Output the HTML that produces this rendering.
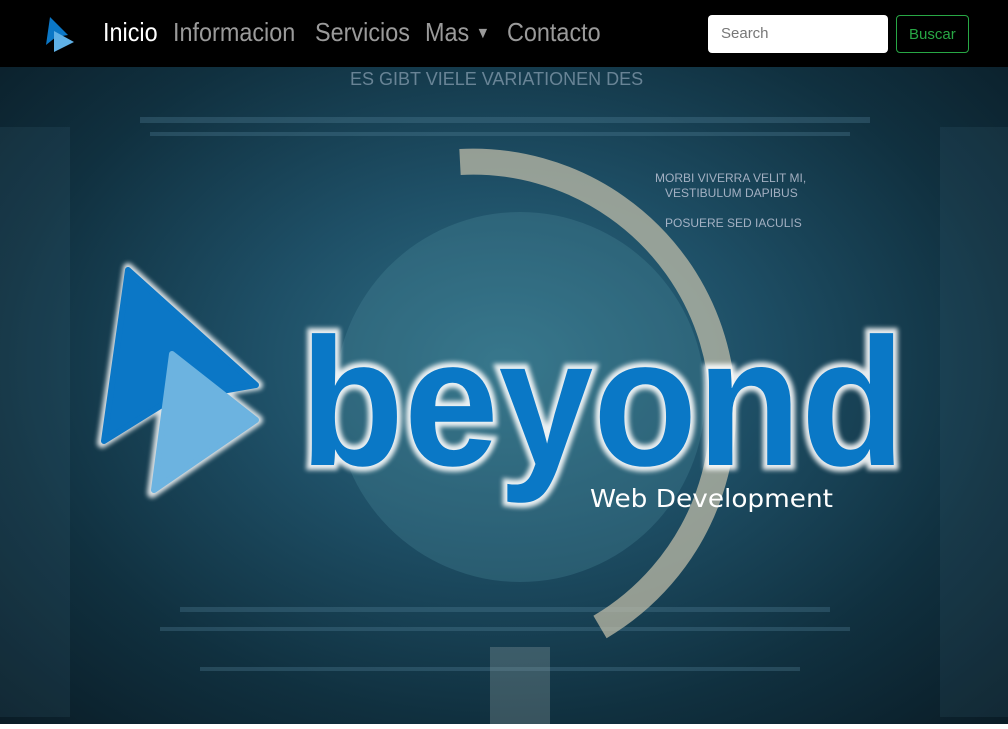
<!DOCTYPE html>
<html><head><meta charset="utf-8"><style>
*{margin:0;padding:0;box-sizing:border-box}
body{width:1008px;height:729px;overflow:hidden;background:#fff;font-family:"Liberation Sans",sans-serif;position:relative}
.nav{position:absolute;left:0;top:0;width:1008px;height:67px;background:#000}
.nav a{position:absolute;top:17px;font-size:26px;color:#9a9a9a;transform:scaleX(.9);transform-origin:left;white-space:nowrap}
.hero{position:absolute;left:0;top:67px;width:1008px;height:657px;overflow:hidden;
background:radial-gradient(ellipse at 50% 45%,#2f6f86 0%,#1e4f66 35%,#10303f 70%,#0a1c26 100%)}
.search{position:absolute;left:708px;top:15px;width:180px;height:38px;background:#fff;border-radius:4px;color:#777;font-size:15px;padding:10px 13px}
.btn{position:absolute;left:896px;top:15px;width:73px;height:38px;border:1px solid #28a745;border-radius:4px;color:#28a745;font-size:15px;padding:10px 12px}
</style></head><body>
<div class="hero">
<svg width="1008" height="657" style="position:absolute;left:0;top:0">
<g fill="#5a8aa0" opacity=".3">
<rect x="140" y="50" width="730" height="6"/><rect x="150" y="65" width="700" height="4"/>
<rect x="180" y="540" width="650" height="5"/><rect x="160" y="560" width="690" height="4"/><rect x="200" y="600" width="600" height="4"/>
<rect x="0" y="60" width="70" height="590" opacity=".4"/><rect x="940" y="60" width="68" height="590" opacity=".4"/>
</g>
<circle cx="520" cy="330" r="185" fill="#4b8a9c" opacity=".3"/>
<path d="M460 95 A250 250 0 0 1 600 560" fill="none" stroke="#c9c3ad" stroke-width="26" opacity=".7"/>
<text x="350" y="18" fill="#bcd" font-size="18" opacity=".5">ES GIBT VIELE VARIATIONEN DES</text>
<text x="655" y="115" fill="#dde" font-size="12" opacity=".7">MORBI VIVERRA VELIT MI,</text>
<text x="665" y="130" fill="#dde" font-size="12" opacity=".7">VESTIBULUM DAPIBUS</text>
<text x="665" y="160" fill="#dde" font-size="12" opacity=".7">POSUERE SED IACULIS</text>
<rect x="490" y="580" width="60" height="77" fill="#9aa" opacity=".3"/>
</svg>
</div>
<div class="nav">
<svg style="position:absolute;left:44px;top:15px" width="32" height="38" viewBox="0 0 32 38"><polygon points="6,2 24,20 12,22 2,30" fill="#0b77c6"/><polygon points="10,16 30,27 10,37" fill="#5fb0e6"/></svg>
<a style="left:103px;color:#fff">Inicio</a>
<a style="left:173px">Informacion</a>
<a style="left:315px">Servicios</a>
<a style="left:425px">Mas <span style="font-size:16px;position:relative;top:-3px">▼</span></a>
<a style="left:507px">Contacto</a>
<div class="search">Search</div>
<div class="btn">Buscar</div>
</div>
<svg style="position:absolute;left:0;top:0" width="1008" height="729">
<defs><filter id="g"><feGaussianBlur stdDeviation="2.5"/></filter></defs>
<g filter="url(#g)" fill="#fff" opacity=".85">
<polygon points="128,268 258,385 170,400 102,443" stroke="#fff" stroke-width="10" stroke-linejoin="round"/>
<polygon points="170,352 258,420 152,493" stroke="#fff" stroke-width="10" stroke-linejoin="round"/>
</g>
<polygon points="128,270 256,385 170,400 104,441" fill="#0b77c6" stroke="#0b77c6" stroke-width="6" stroke-linejoin="round"/>
<polygon points="172,354 256,420 154,490" fill="#6cb3e0" stroke="#6cb3e0" stroke-width="6" stroke-linejoin="round"/>
<text x="300" y="465" font-family="Liberation Sans" font-weight="bold" font-size="182" fill="#fff" stroke="#fff" stroke-width="10" filter="url(#g)" opacity=".9" textLength="605" lengthAdjust="spacingAndGlyphs">beyond</text>
<text x="300" y="465" font-family="Liberation Sans" font-weight="bold" font-size="182" fill="#0a78c6" textLength="605" lengthAdjust="spacingAndGlyphs">beyond</text>
<text x="590" y="507" font-family="DejaVu Sans" font-size="25" fill="#fff" textLength="243" lengthAdjust="spacingAndGlyphs">Web Development</text>
</svg>
</body></html>
